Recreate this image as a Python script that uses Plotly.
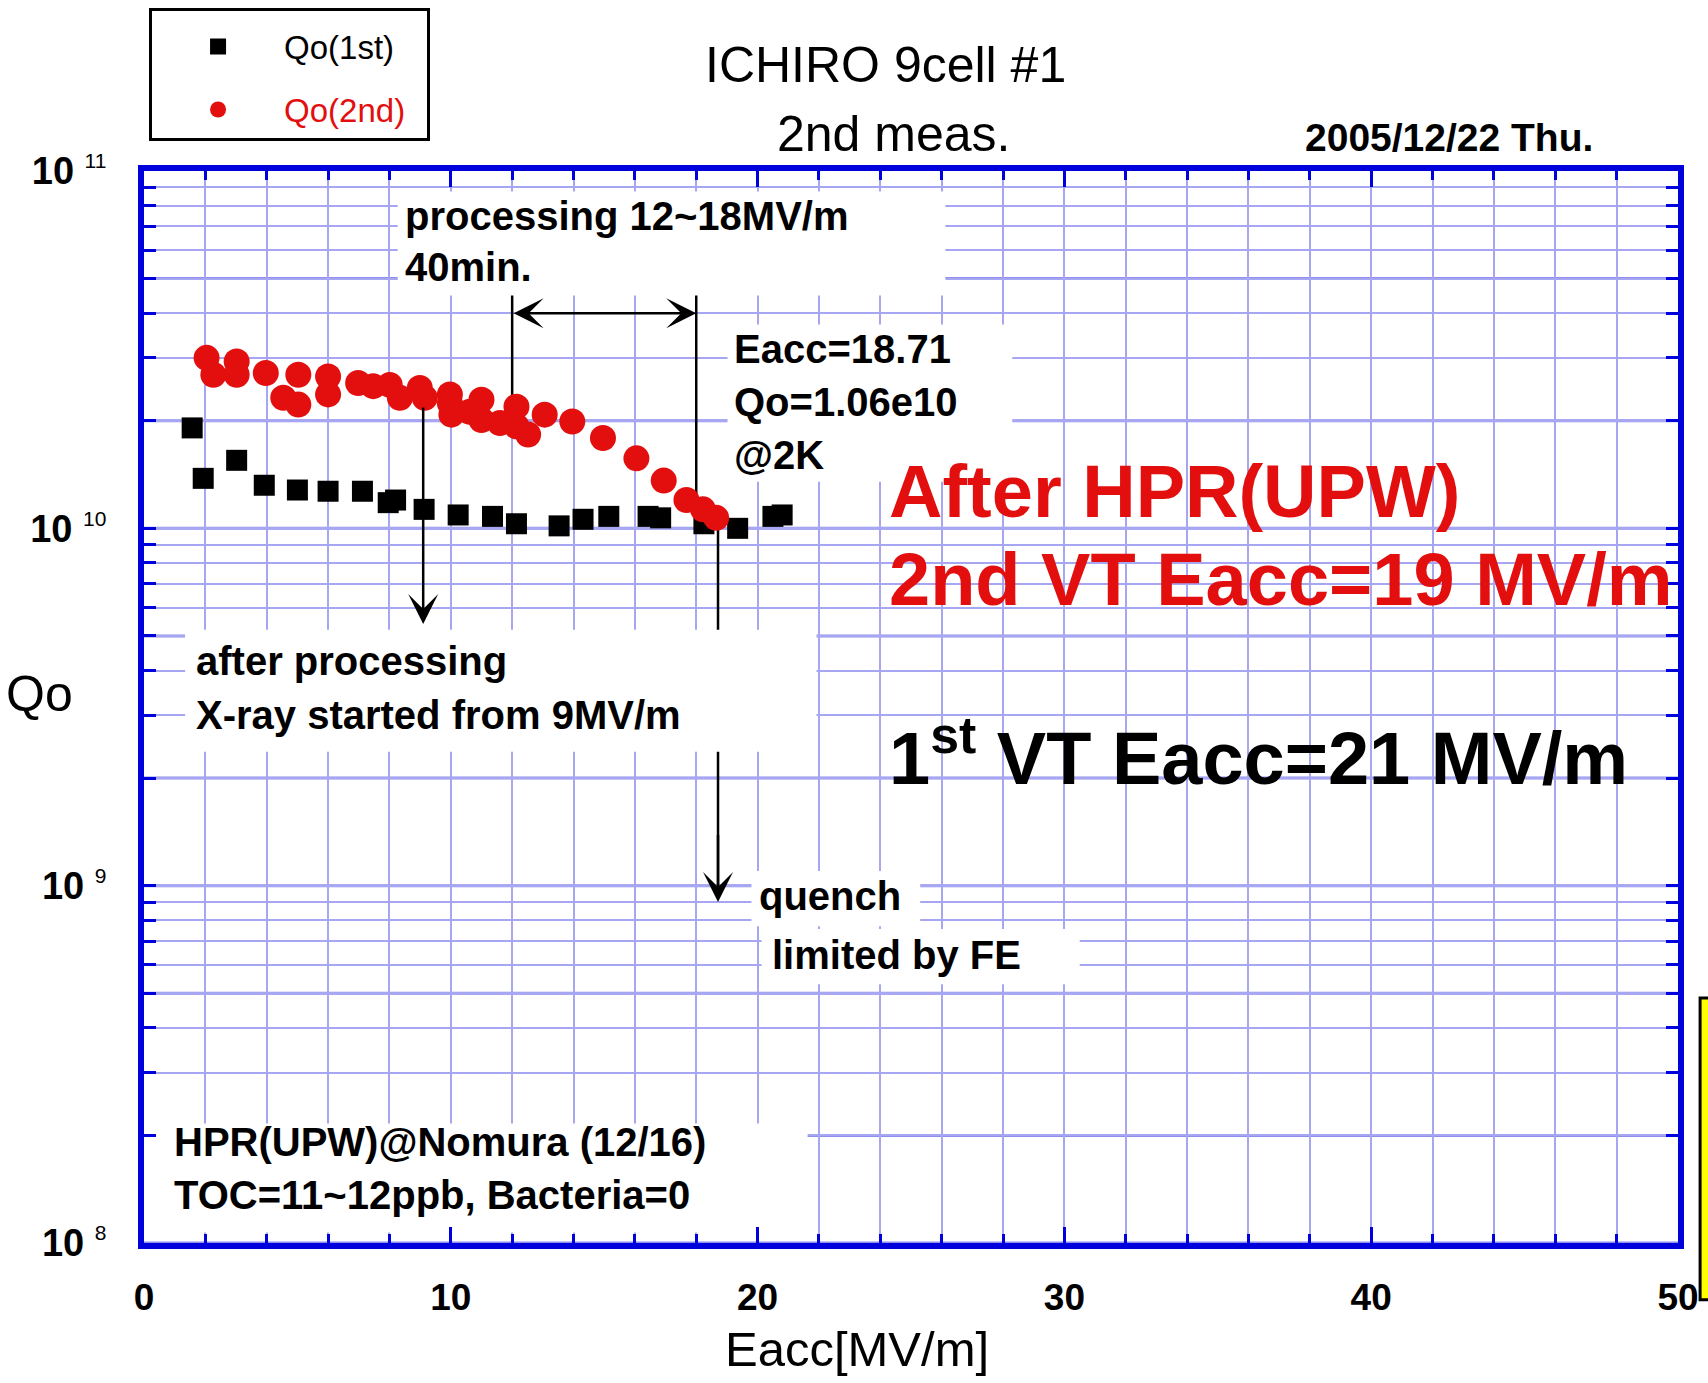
import math
import plotly.graph_objects as go

# ---------------- data ----------------
# 1st measurement (black squares)
E_1st = [1.57, 1.93, 3.02, 3.92, 5.00, 6.00, 7.12, 7.96, 8.20, 9.13, 10.24,
         11.36, 12.14, 13.53, 14.31, 15.15, 16.43, 16.84, 18.25, 19.35, 20.50, 20.80]
Q_1st = [1.91e10, 1.38e10, 1.55e10, 1.32e10, 1.28e10, 1.27e10, 1.27e10, 1.18e10,
         1.20e10, 1.13e10, 1.09e10, 1.08e10, 1.03e10, 1.016e10, 1.06e10, 1.08e10,
         1.08e10, 1.07e10, 1.03e10, 1.00e10, 1.08e10, 1.09e10]

# 2nd measurement (red circles)
E_2nd = [2.04, 2.26, 3.02, 3.02, 3.97, 4.54, 5.03, 5.03, 6.00, 6.00, 6.98, 7.47,
         8.01, 8.34, 8.99, 9.15, 9.97, 9.97, 10.02, 10.62, 11.00, 11.00, 11.60,
         12.14, 12.14, 12.52, 13.06, 13.96, 14.96, 16.05, 16.94, 17.68, 18.22, 18.65]
Q_2nd = [3.00e10, 2.69e10, 2.93e10, 2.69e10, 2.72e10, 2.32e10, 2.69e10, 2.22e10,
         2.66e10, 2.37e10, 2.55e10, 2.50e10, 2.52e10, 2.32e10, 2.47e10, 2.32e10,
         2.24e10, 2.37e10, 2.08e10, 2.12e10, 2.29e10, 2.01e10, 1.97e10, 2.19e10,
         1.93e10, 1.83e10, 2.08e10, 1.99e10, 1.79e10, 1.57e10, 1.36e10, 1.20e10,
         1.13e10, 1.07e10]

X_MAJOR_TICKS = [0, 10, 20, 30, 40, 50]
Y_DECADE_EXP = [8, 9, 10, 11]

# quench point and processing window
QUENCH_E, QUENCH_Q = 18.71, 1.06e10
PROC_START, PROC_END = 12, 18

# ---------------- styles ----------------
FONT = "Liberation Sans"
BLUE = "#0000dc"
GRID = "#a6a6f3"
GRID_STRONG = "#8e8eee"
RED = "#e30f0f"

fig = go.Figure()
fig.add_trace(go.Scatter(
    x=E_1st, y=Q_1st, mode="markers", name="Qo(1st)&nbsp;&nbsp;&nbsp;",
    legendgroup="a", marker=dict(symbol="square", size=21, color="black")))
fig.add_trace(go.Scatter(
    x=E_2nd, y=Q_2nd, mode="markers",
    name="<span style='color:%s'>Qo(2nd)</span>" % RED, legendgroup="b",
    marker=dict(symbol="circle", size=26, color=RED)))

# y ticks: every 1..9 x decade, labels only on decades
y_tickvals, y_ticktext = [], []
for e in Y_DECADE_EXP:
    for m in range(1, 10):
        if e == Y_DECADE_EXP[-1] and m > 1:
            break
        y_tickvals.append(m * 10 ** e)
        y_ticktext.append(
            "10 <sup><span style='font-size:21px;font-weight:normal'>%d</span></sup>" % e
            if m == 1 else "")

shapes = []
# stronger grid lines at 1, 2, 5 x decade
for e in Y_DECADE_EXP[:-1]:
    for m in (1, 2, 5):
        v = m * 10 ** e
        shapes.append(dict(type="line", xref="paper", yref="y", x0=0, x1=1, y0=v, y1=v,
                           line=dict(color=GRID_STRONG, width=3), layer="between"))

# processing window vertical lines
shapes.append(dict(type="line", xref="x", yref="y", x0=PROC_START, x1=PROC_START,
                   y0=2.1e10, y1=5.0e10, line=dict(color="black", width=2.5), layer="between"))
shapes.append(dict(type="line", xref="x", yref="y", x0=PROC_END, x1=PROC_END,
                   y0=1.15e10, y1=5.0e10, line=dict(color="black", width=2.5), layer="between"))
# quench line
shapes.append(dict(type="line", xref="x", yref="y", x0=QUENCH_E, x1=QUENCH_E,
                   y0=9.5e8, y1=QUENCH_Q, line=dict(color="black", width=2.5), layer="between"))

# white boxes behind the notes (hide grid)
boxes = [
    (8.27, 26.12, 4.48e10, 8.76e10),   # processing
    (19.02, 28.3, 1.35e10, 3.72e10),   # Eacc=18.71
    (1.34, 21.92, 2.37e9, 5.2e9),      # after processing
    (19.8, 25.3, 7.7e8, 1.1e9),        # quench
    (20.13, 30.5, 5.3e8, 7.56e8),      # limited by FE
    (0.36, 21.63, 1.07e8, 2.16e8),     # HPR
]
for x0, x1, y0, y1 in boxes:
    shapes.append(dict(type="rect", xref="x", yref="y", x0=x0, x1=x1, y0=y0, y1=y1,
                       fillcolor="white", line=dict(width=0), layer="between"))

# yellow box clipped at right edge
shapes.append(dict(type="rect", xref="paper", yref="paper", x0=1.0144, x1=1.03,
                   y0=-0.053, y1=0.2285, fillcolor="#ffff00",
                   line=dict(color="black", width=3), layer="above"))

L = math.log10
ann = []


def note(x, ly, text, size=40, color="black", bold=True):
    ann.append(dict(x=x, y=ly, xref="x", yref="y", text=text, showarrow=False,
                    xanchor="left", yanchor="middle",
                    font=dict(family=FONT, size=size, color=color,
                              weight="bold" if bold else "normal")))


note(8.44, 10.8754, "processing 12~18MV/m")
note(8.44, 10.7325, "40min.")
note(19.15, 10.5028, "Eacc=18.71")
note(19.15, 10.3543, "Qo=1.06e10")
note(19.15, 10.2059, "@2K")
note(1.63, 9.6289, "after processing")
note(1.63, 9.4776, "X-ray started from 9MV/m")
note(19.97, 8.9706, "quench")
note(20.39, 8.8053, "limited by FE")
note(0.91, 8.2815, "HPR(UPW)@Nomura (12/16)")
note(0.91, 8.1331, "TOC=11~12ppb, Bacteria=0")
note(24.23, 10.1022, "After HPR(UPW)", size=74, color=RED)
note(24.23, 9.8557, "2nd VT Eacc=19 MV/m", size=74, color=RED)
note(24.23, 9.372, "1<sup>st</sup> VT Eacc=21 MV/m", size=74)

# arrows
ann.append(dict(x=PROC_END, y=L(4.0e10), ax=PROC_START, ay=L(4.0e10), xref="x", yref="y",
                axref="x", ayref="y", text="", showarrow=True, arrowside="end+start",
                arrowhead=3, startarrowhead=3, arrowsize=2, startarrowsize=2,
                arrowwidth=2.5, arrowcolor="black"))
ann.append(dict(x=9.1, y=L(5.4e9), ax=9.1, ay=L(2.2e10), xref="x", yref="y",
                axref="x", ayref="y", text="", showarrow=True,
                arrowhead=3, arrowsize=2, arrowwidth=2.5, arrowcolor="black"))
ann.append(dict(x=QUENCH_E, y=L(9.0e8), ax=QUENCH_E, ay=L(1.4e9), xref="x", yref="y",
                axref="x", ayref="y", text="", showarrow=True,
                arrowhead=3, arrowsize=2, arrowwidth=2.5, arrowcolor="black"))

# titles (paper coords)
ann.append(dict(x=0.4837, y=1.0989, xref="paper", yref="paper", text="ICHIRO 9cell #1",
                showarrow=False, xanchor="center", yanchor="middle",
                font=dict(family=FONT, size=50, color="black")))
ann.append(dict(x=0.4883, y=1.0345, xref="paper", yref="paper", text="2nd meas.",
                showarrow=False, xanchor="center", yanchor="middle",
                font=dict(family=FONT, size=50, color="black")))
ann.append(dict(x=0.8507, y=1.0308, xref="paper", yref="paper", text="2005/12/22 Thu.",
                showarrow=False, xanchor="center", yanchor="middle",
                font=dict(family=FONT, size=39, color="black", weight="bold")))
ann.append(dict(x=0.4648, y=-0.0990, xref="paper", yref="paper", text="Eacc[MV/m]",
                showarrow=False, xanchor="center", yanchor="middle",
                font=dict(family=FONT, size=49, color="black")))
ann.append(dict(x=-0.0678, y=0.5121, xref="paper", yref="paper", text="Qo",
                showarrow=False, xanchor="center", yanchor="middle",
                font=dict(family=FONT, size=50, color="black")))

fig.update_layout(
    width=1708, height=1383,
    margin=dict(l=144, r=30, t=171, b=140, autoexpand=False),
    paper_bgcolor="white", plot_bgcolor="white",
    font=dict(family=FONT, color="black"),
    showlegend=True,
    legend=dict(x=0.0033, y=1.1522, xanchor="left", yanchor="top",
                bordercolor="black", borderwidth=3, bgcolor="white",
                font=dict(family=FONT, size=33, color="black"),
                title=dict(text="&nbsp;", font=dict(size=6)),
                itemwidth=122, traceorder="grouped", tracegroupgap=17),
    shapes=shapes,
    annotations=ann,
    xaxis=dict(range=[0, 50], tickvals=X_MAJOR_TICKS, showgrid=True, gridcolor=GRID,
               gridwidth=1.5, ticks="inside", ticklen=16, tickwidth=3, tickcolor=BLUE,
               showline=True, linecolor=BLUE, linewidth=6, mirror="allticks",
               zeroline=False, ticklabelstandoff=17, automargin=False,
               tickfont=dict(family=FONT, size=37, color="black", weight="bold"),
               minor=dict(dtick=2, tick0=0, showgrid=True, gridcolor=GRID, gridwidth=1.5,
                          ticks="inside", ticklen=9, tickwidth=3, tickcolor=BLUE)),
    yaxis=dict(type="log", range=[8, 11], tickvals=y_tickvals, ticktext=y_ticktext,
               showgrid=True, gridcolor=GRID, gridwidth=1.5, ticks="inside", ticklen=12,
               tickwidth=3, tickcolor=BLUE, showline=True, linecolor=BLUE, linewidth=6,
               mirror="allticks", zeroline=False, ticklabelstandoff=24, automargin=False,
               tickfont=dict(family=FONT, size=38, color="black", weight="bold")),
)

# remove the default page margin so the figure sits at the window's top-left corner
fig.write_html("out.html", config={"displayModeBar": False},
               post_script="document.body.style.margin='0px';")
